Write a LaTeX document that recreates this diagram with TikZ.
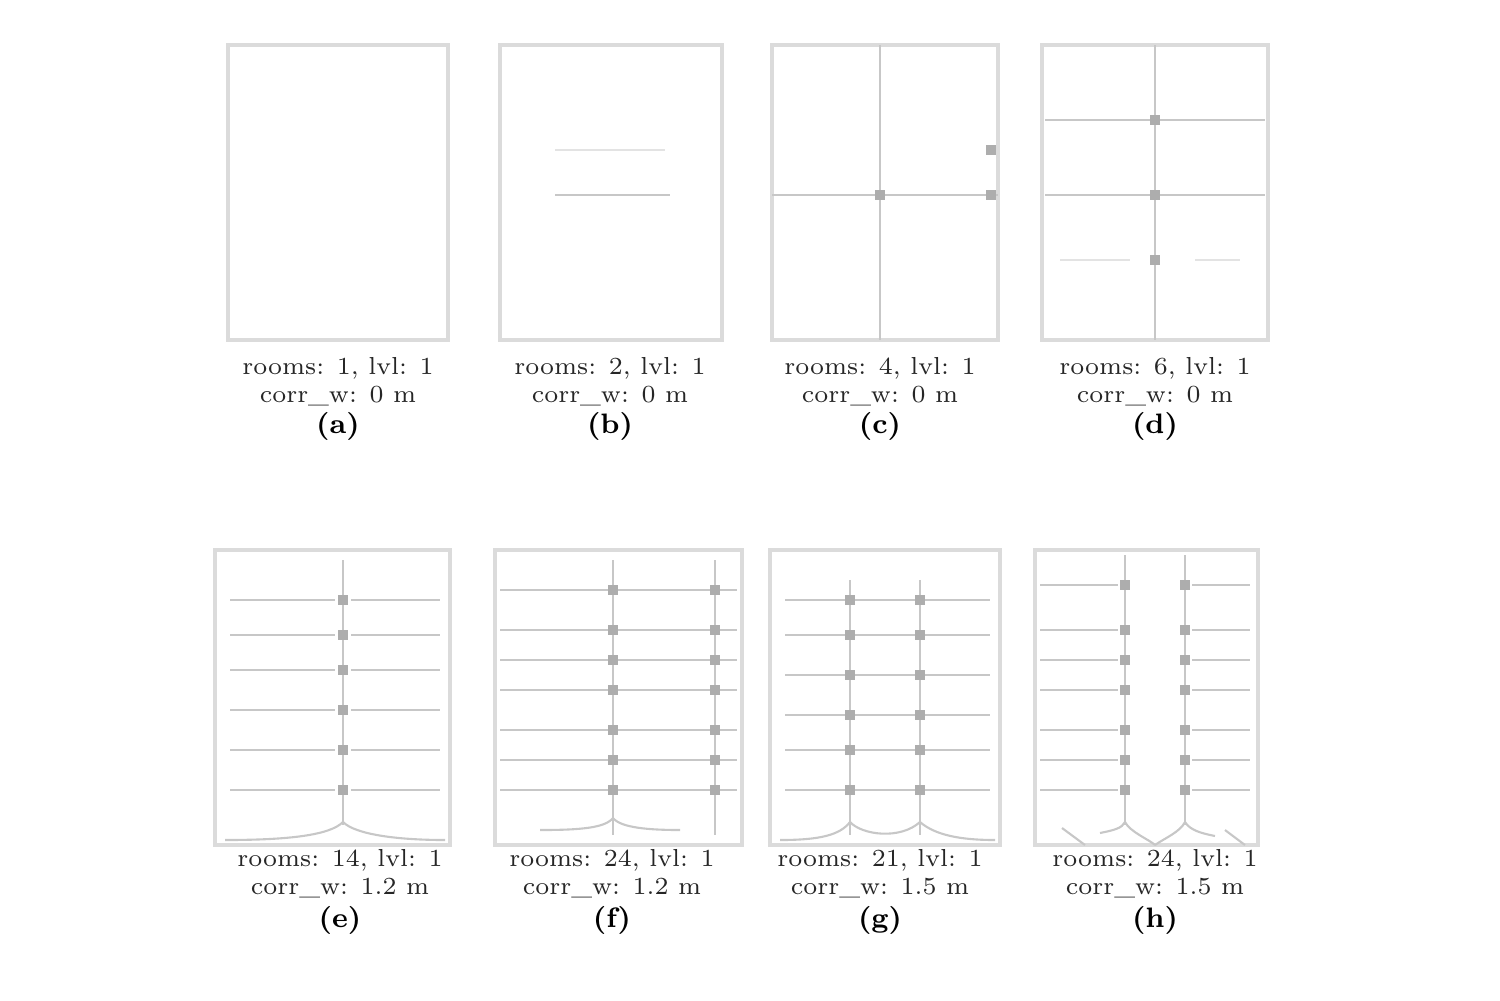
\documentclass[tikz,border=0pt]{standalone}
\usepackage{amsmath}
\usepackage{amssymb}
\usepackage{tikz}

\begin{document}
\begin{tikzpicture}[
		x=0.1mm, y=-0.1mm,
		wall/.style={draw=black!14, line width=0.9pt},
		part/.style={draw=black!22, line width=0.6pt},
		faint/.style={draw=black!11, line width=0.6pt},
		door/.style={fill=black!32, draw=none},
		every node/.style={font=\scriptsize, text=black!85, align=center, inner sep=0pt},
		tag/.style={font=\footnotesize\bfseries, text=black}
	]
  \useasboundingbox (0,0) rectangle (1500,1000);
  % top row
  \draw[wall] (228,45) rectangle (448,340);
  \node (capA) at (338,382) {rooms: 1, lvl: 1\\corr\_w: 0 m};
  \node (tagA) at (338,426) [tag] {(a)};

  \draw[wall] (500,45) rectangle (722,340);
  \draw[faint] (555,150) -- (665,150);
  \draw[part] (555,195) -- (670,195);
  \node (capB) at (610,382) {rooms: 2, lvl: 1\\corr\_w: 0 m};
  \node (tagB) at (610,426) [tag] {(b)};

  \draw[wall] (772,45) rectangle (998,340);
  \draw[part] (880,45) -- (880,340);
  \draw[part] (772,195) -- (998,195);
  \fill[door] (875,190) rectangle (885,200);
  \fill[door] (986,145) rectangle (996,155);
  \fill[door] (986,190) rectangle (996,200);
  \node (capC) at (880,382) {rooms: 4, lvl: 1\\corr\_w: 0 m};
  \node (tagC) at (880,426) [tag] {(c)};

  \draw[wall] (1042,45) rectangle (1268,340);
  \draw[part] (1155,45) -- (1155,340);
  \draw[part] (1045,120) -- (1265,120);
  \draw[part] (1045,195) -- (1265,195);
  \draw[faint] (1060,260) -- (1130,260);
  \draw[faint] (1195,260) -- (1240,260);
  \foreach \y in {120,195,260}
    \fill[door] (1150,\y-5) rectangle (1160,\y+5);
  \node (capD) at (1155,382) {rooms: 6, lvl: 1\\corr\_w: 0 m};
  \node (tagD) at (1155,426) [tag] {(d)};

  % bottom row
  \draw[wall] (215,550) rectangle (450,845);
  \draw[part] (343,560) -- (343,825);
  \foreach \y in {600,635,670,710,750,790} {
    \draw[part] (230,\y) -- (335,\y);
    \draw[part] (351,\y) -- (440,\y);
    \fill[door] (338,\y-5) rectangle (348,\y+5);
  }
  \draw[part] (225,840) .. controls (290,840) and (330,835) .. (343,822);
  \draw[part] (343,822) .. controls (356,835) and (400,840) .. (445,840);
  \node (capE) at (340,874) {rooms: 14, lvl: 1\\corr\_w: 1.2 m};
  \node (tagE) at (340,920) [tag] {(e)};

  \draw[wall] (495,550) rectangle (742,845);
  \draw[part] (613,560) -- (613,835);
  \draw[part] (715,560) -- (715,835);
  \foreach \y in {590,630,660,690,730,760,790} {
    \draw[part] (500,\y) -- (737,\y);
    \fill[door] (608,\y-5) rectangle (618,\y+5);
    \fill[door] (710,\y-5) rectangle (720,\y+5);
  }
  \draw[part] (540,830) .. controls (580,830) and (605,828) .. (613,818);
  \draw[part] (613,818) .. controls (621,828) and (650,830) .. (680,830);
  \node (capF) at (612,874) {rooms: 24, lvl: 1\\corr\_w: 1.2 m};
  \node (tagF) at (612,920) [tag] {(f)};

  \draw[wall] (770,550) rectangle (1000,845);
  \draw[part] (850,580) -- (850,835);
  \draw[part] (920,580) -- (920,835);
  \foreach \y in {600,635,675,715,750,790} {
    \draw[part] (785,\y) -- (990,\y);
    \fill[door] (845,\y-5) rectangle (855,\y+5);
    \fill[door] (915,\y-5) rectangle (925,\y+5);
  }
  \draw[part] (780,840) .. controls (820,840) and (840,835) .. (850,822);
  \draw[part] (850,822) .. controls (862,835) and (900,840) .. (920,822);
  \draw[part] (920,822) .. controls (935,835) and (960,840) .. (995,840);
  \node (capG) at (880,874) {rooms: 21, lvl: 1\\corr\_w: 1.5 m};
  \node (tagG) at (880,920) [tag] {(g)};

  \draw[wall] (1035,550) rectangle (1258,845);
  \draw[part] (1125,555) -- (1125,825);
  \draw[part] (1185,555) -- (1185,825);
  \foreach \y in {585,630,660,690,730,760,790} {
    \draw[part] (1040,\y) -- (1118,\y);
    \draw[part] (1192,\y) -- (1250,\y);
    \fill[door] (1120,\y-5) rectangle (1130,\y+5);
    \fill[door] (1180,\y-5) rectangle (1190,\y+5);
  }
  \draw[part] (1062,828) -- (1085,845);
  \draw[part] (1100,833) .. controls (1115,830) and (1122,828) .. (1125,822);
  \draw[part] (1125,822) .. controls (1130,832) and (1150,840) .. (1155,845);
  \draw[part] (1155,845) .. controls (1165,838) and (1180,832) .. (1185,822);
  \draw[part] (1185,822) .. controls (1190,830) and (1200,833) .. (1215,836);
  \draw[part] (1225,830) -- (1245,845);
  \node (capH) at (1155,874) {rooms: 24, lvl: 1\\corr\_w: 1.5 m};
  \node (tagH) at (1155,920) [tag] {(h)};
\end{tikzpicture}
\end{document}
